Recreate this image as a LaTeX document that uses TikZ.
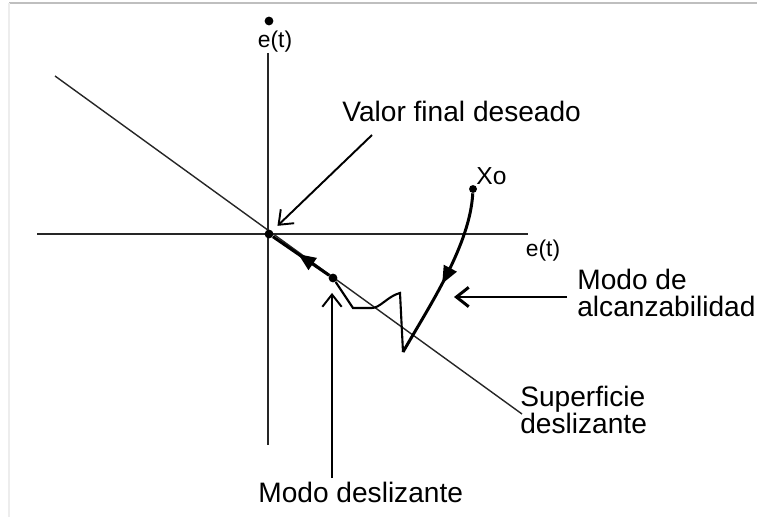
\documentclass[tikz,border=0pt]{standalone}
\usepackage{fontspec}
\setmainfont{Liberation Sans}
\usetikzlibrary{arrows.meta, decorations.markings}

\begin{document}
\begin{tikzpicture}[x=0.02cm, y=-0.02cm,
    axis/.style={draw=black!85, line width=1.1pt},
    surface/.style={draw=black!85, line width=0.8pt},
    pointer/.style={-{Straight Barb[length=7pt, width=11pt]}, line width=1.1pt},
    traj/.style={line width=1.7pt},
    zigzag/.style={line width=1.2pt, line join=miter},
    lbl/.style={font=\fontsize{16}{15.5}\selectfont, inner sep=0pt, align=left},
    axlbl/.style={font=\fontsize{13}{14}\selectfont, inner sep=0pt},
    dot/.style={circle, fill, inner sep=0pt, minimum size=5pt},
    midtip/.style={decoration={markings,
        mark=at position #1 with {\arrow{Triangle[length=10pt, width=8pt]}}},
        postaction=decorate}
]
\useasboundingbox (0,0) rectangle (757,517);
% screenshot frame
\draw[black!25, line width=0.6pt] (9,3) -- (757,3);
\draw[black!7, line width=0.6pt] (9,3) -- (9,517);

% axes
\node[dot] (edot) at (269,21) {};
\node[axlbl] (ey) at (275,42) {e(t)};
\node[axlbl] (ex) at (543,251) {e(t)};
\coordinate (ytop) at (268,53);
\coordinate (ybot) at (268,445);
\coordinate (xleft) at (37,234);
\coordinate (xright) at (528,234);
\draw[axis] (ytop) -- (ybot);
\draw[axis] (xleft) -- (xright);

% sliding surface
\coordinate (sA) at (55,76);
\coordinate (sB) at (522,414);
\draw[surface] (sA) -- (sB);

\node[dot] (O) at (269,234) {};
\node[dot] (M) at (333,278) {};
\node[dot, minimum size=4.5pt] (X0) at (473,189) {};
\node[axlbl, font=\fontsize{14}{15}\selectfont, anchor=west] (x0lbl) at (476,176) {Xo};

% reaching mode trajectory
\coordinate (z1) at (353,308);
\coordinate (z2) at (372,308);
\coordinate (z3) at (400,293);
\coordinate (z4) at (403,352);
\draw[traj, midtip=0.55] (X0) .. controls (470,245) and (430,305) .. (z4);
\draw[zigzag] (z4) -- (z3) .. controls (388,296) and (380,308) .. (z2) -- (z1) -- (M);
% sliding mode along the surface
\draw[traj, midtip=0.55] (M) -- (O);

% labels
\node[lbl, anchor=west] (valor) at (342,111) {Valor final deseado};
\node[lbl, anchor=north west] (alc) at (577,269) {Modo de\\alcanzabilidad};
\node[lbl, anchor=north west] (sup) at (520,386) {Superficie\\deslizante};
\node[lbl, anchor=base west] (desl) at (258,502) {Modo deslizante};

\coordinate (valorptr) at (372,135);
\coordinate (alcptr) at (567,297);
\coordinate (alcend) at (454,297);
\coordinate (deslptr) at (332,478);
\draw[pointer, shorten >=4pt] (valorptr) -- (O);
\draw[pointer, line width=1.7pt] (alcptr) -- (alcend);
\draw[pointer, shorten >=8.5pt] (deslptr) -- (deslptr |- M);
\end{tikzpicture}
\end{document}
